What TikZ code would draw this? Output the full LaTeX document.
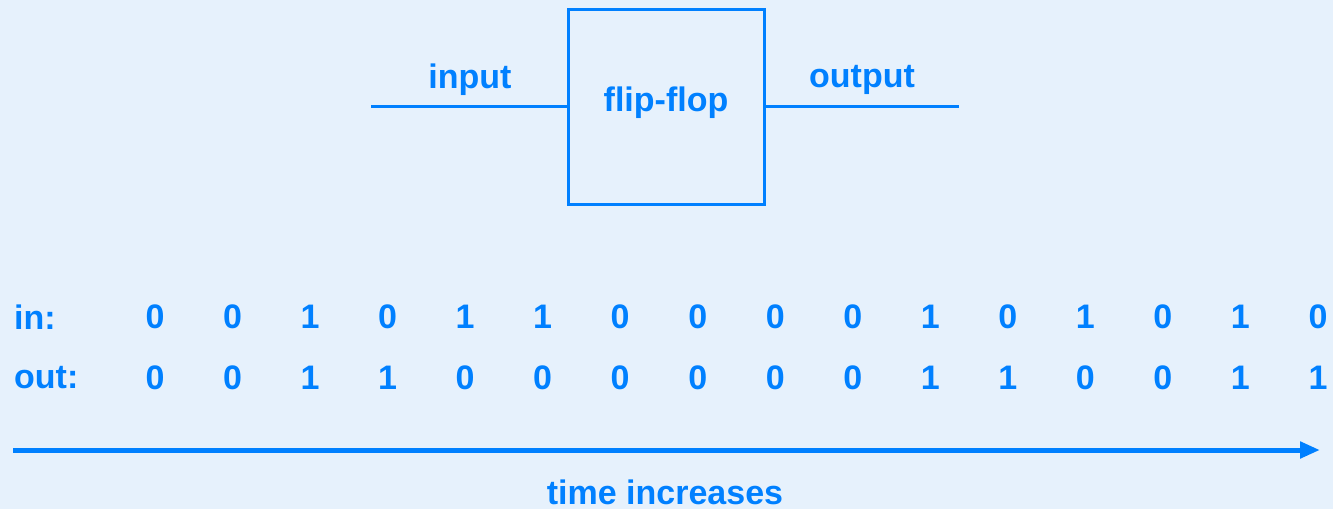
\documentclass[tikz,border=0pt]{standalone}
\usepackage{fontspec}
\setmainfont{Liberation Sans}
\usetikzlibrary{arrows.meta}
\definecolor{bg}{HTML}{E6F1FC}
\definecolor{blu}{HTML}{0080FF}
\begin{document}
\begin{tikzpicture}[x=1pt,y=-1pt,
  lbl/.style={text=blu,font=\fontsize{34}{40}\selectfont\bfseries,inner sep=0pt},
  wire/.style={draw=blu,line width=3pt},
  ffbox/.style={draw=blu,line width=3pt,minimum width=196pt,minimum height=195pt,inner sep=0pt}]
\fill[bg] (0,0) rectangle (1333,509);
\useasboundingbox (0,0) rectangle (1333,509);
\node[ffbox] (ff) at (666,106.5) {};
\node[lbl] (fft) at (666,103) {flip-flop};
\coordinate (inL) at (371,106);
\coordinate (outR) at (959,106);
\draw[wire] (inL) -- (ff.west |- inL);
\draw[wire] (ff.east |- outR) -- (outR);
\node[lbl] (intext) at (470,80) {input};
\node[lbl] (outtext) at (862,80) {output};
\node[lbl,anchor=west] (inrow) at (14,317) {in:};
\node[lbl,anchor=west] (outrow) at (14,378) {out:};
\foreach \v [count=\i from 0] in {0,0,1,0,1,1,0,0,0,0,1,0,1,0,1,0}
  \node[lbl] (in\i) at (155+77.53*\i,317) {\v};
\foreach \v [count=\i from 0] in {0,0,1,1,0,0,0,0,0,0,1,1,0,0,1,1}
  \node[lbl] (out\i) at (155+77.53*\i,378) {\v};
\coordinate (tA) at (13,450);
\coordinate (tB) at (1320,450);
\draw[draw=blu,line width=5pt,-{Triangle[length=20pt,width=16pt]}] (tA) -- (tB);
\node[lbl] (time) at (665,492) {time increases};
\end{tikzpicture}
\end{document}
